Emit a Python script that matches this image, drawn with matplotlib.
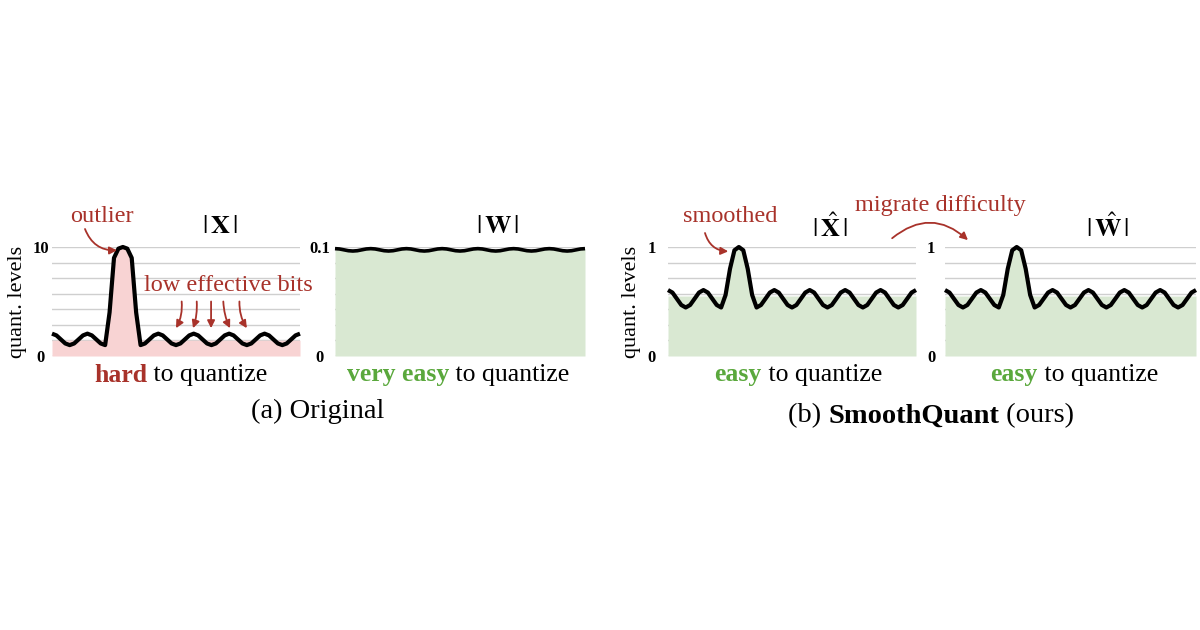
import numpy as np
import matplotlib
matplotlib.use("Agg")
import matplotlib.pyplot as plt

plt.rcParams['font.family'] = ['Liberation Serif', 'DejaVu Serif']
plt.rcParams['mathtext.fontset'] = 'stix'

# positions along each panel (half periods of the ripple)
positions = np.arange(0, 14.01, 0.25)

# |X| : activation with one outlier channel (quant. levels, 0..10)
x_levels = [2.05, 1.89, 1.52, 1.15,
            1.00, 1.15, 1.52, 1.89,
            2.05, 1.89, 1.52, 1.15,
            1.00, 4.00, 9.00, 9.85,
            10.0, 9.85, 9.00, 4.00,
            1.00, 1.15, 1.52, 1.89,
            2.05, 1.89, 1.52, 1.15,
            1.00, 1.15, 1.52, 1.89,
            2.05, 1.89, 1.52, 1.15,
            1.00, 1.15, 1.52, 1.89,
            2.05, 1.89, 1.52, 1.15,
            1.00, 1.15, 1.52, 1.89,
            2.05, 1.89, 1.52, 1.15,
            1.00, 1.15, 1.52, 1.89,
            2.05]

# |W| : weights, almost flat (0..0.1)
w_levels = [0.0985, 0.0982, 0.0974, 0.0966,
            0.0963, 0.0966, 0.0974, 0.0982,
            0.0985, 0.0982, 0.0974, 0.0966,
            0.0963, 0.0966, 0.0974, 0.0982,
            0.0985, 0.0982, 0.0974, 0.0966,
            0.0963, 0.0966, 0.0974, 0.0982,
            0.0985, 0.0982, 0.0974, 0.0966,
            0.0963, 0.0966, 0.0974, 0.0982,
            0.0985, 0.0982, 0.0974, 0.0966,
            0.0963, 0.0966, 0.0974, 0.0982,
            0.0985, 0.0982, 0.0974, 0.0966,
            0.0963, 0.0966, 0.0974, 0.0982,
            0.0985, 0.0982, 0.0974, 0.0966,
            0.0963, 0.0966, 0.0974, 0.0982,
            0.0985]

# |X^| and |W^| after smoothing (0..1), both look the same
smooth_levels = [0.605, 0.582, 0.525, 0.468,
                 0.445, 0.468, 0.525, 0.582,
                 0.605, 0.582, 0.525, 0.468,
                 0.445, 0.560, 0.800, 0.970,
                 1.000, 0.970, 0.800, 0.560,
                 0.445, 0.468, 0.525, 0.582,
                 0.605, 0.582, 0.525, 0.468,
                 0.445, 0.468, 0.525, 0.582,
                 0.605, 0.582, 0.525, 0.468,
                 0.445, 0.468, 0.525, 0.582,
                 0.605, 0.582, 0.525, 0.468,
                 0.445, 0.468, 0.525, 0.582,
                 0.605, 0.582, 0.525, 0.468,
                 0.445, 0.468, 0.525, 0.582,
                 0.605]

x_fill_level = 1.45
smooth_fill_level = 0.55

RED = '#a8322a'
GREEN = '#5aa83c'
PINK = '#f8d3d3'
LIGHT_GREEN = '#d9e8d2'
GRID = '#cfcfcf'

W, H = 1200, 630
fig = plt.figure(figsize=(12, 6.3), dpi=100)


def px_axes(left, right, top, bottom):
    return fig.add_axes([left / W, 1 - bottom / H, (right - left) / W, (bottom - top) / H])


def style_axes(ax, top, top_label, pad):
    ax.set_xlim(0, 14)
    ax.set_ylim(0, top)
    ax.set_xticks([])
    ax.set_yticks(np.linspace(0, top, 8), minor=True)
    ax.set_yticks([0, top])
    ax.set_yticklabels(['0', top_label], fontweight='bold', fontsize=12)
    for lab in ax.get_yticklabels():
        lab.set_horizontalalignment('center')
    ax.tick_params(axis='y', which='both', length=0, pad=pad)
    ax.grid(True, axis='y', which='both', color=GRID, lw=1)
    ax.set_axisbelow(True)
    for s in ax.spines.values():
        s.set_visible(False)
    ax.patch.set_alpha(0)


def draw_curve(ax, y, fill_color, fill_level=None, lw=3.0):
    y = np.asarray(y)
    if fill_level is None:
        top = y
    else:
        spike = (positions > 3) & (positions < 5)
        top = np.where(spike, np.maximum(y, fill_level), fill_level)
    ax.fill_between(positions, 0, top, color=fill_color, lw=0, zorder=1)
    ax.plot(positions, y, color='black', lw=lw, solid_joinstyle='round',
            solid_capstyle='butt', zorder=3, clip_on=False)


ax1 = px_axes(52, 300, 247, 356)
style_axes(ax1, 10, '10', 8)
draw_curve(ax1, x_levels, PINK, x_fill_level)

ax2 = px_axes(335, 585, 247, 356)
style_axes(ax2, 0.1, '0.1', 11)
draw_curve(ax2, w_levels, LIGHT_GREEN, None, lw=2.6)

ax3 = px_axes(668, 916, 247, 356)
style_axes(ax3, 1, '1', 12)
draw_curve(ax3, smooth_levels, LIGHT_GREEN, smooth_fill_level)

ax4 = px_axes(945, 1196, 247, 356)
style_axes(ax4, 1, '1', 10)
draw_curve(ax4, smooth_levels, LIGHT_GREEN, smooth_fill_level)


def ftext(x, y, s, **kw):
    return fig.text(x / W, 1 - y / H, s, ha=kw.pop('ha', 'center'),
                    va=kw.pop('va', 'center'), **kw)


# y labels
ftext(18, 302, 'quant. levels', rotation=90, fontsize=16)
ftext(632, 302, 'quant. levels', rotation=90, fontsize=16)

# panel titles
ftext(220, 227, r'$|\,\mathbf{X}\,|$', fontsize=19)
ftext(498, 227, r'$|\,\mathbf{W}\,|$', fontsize=19)
ftext(830, 228, r'$|\,\hat{\mathbf{X}}\,|$', fontsize=19)
ftext(1108, 228, r'$|\,\hat{\mathbf{W}}\,|$', fontsize=19)


def mixed_text(xc, y, parts, size):
    renderer = fig.canvas.get_renderer()
    texts = []
    for s, color, weight in parts:
        texts.append(ftext(0, y, s, ha='left', color=color, fontweight=weight, fontsize=size))
    widths = [t.get_window_extent(renderer).width for t in texts]
    x = xc - sum(widths) / 2
    for t, w in zip(texts, widths):
        t.set_x(x / W)
        x += w


mixed_text(181, 375, [('hard', RED, 'bold'), (' to quantize', 'black', 'normal')], 18.5)
mixed_text(458, 375, [('very easy', GREEN, 'bold'), (' to quantize', 'black', 'normal')], 18.5)
mixed_text(798, 375, [('easy', GREEN, 'bold'), (' to quantize', 'black', 'normal')], 18.5)
mixed_text(1074, 375, [('easy', GREEN, 'bold'), (' to quantize', 'black', 'normal')], 18.5)

mixed_text(318, 411, [('(a) Original', 'black', 'normal')], 20.5)
mixed_text(931, 416, [('(b) ', 'black', 'normal'), ('SmoothQuant', 'black', 'bold'),
                      (' (ours)', 'black', 'normal')], 20.5)

# annotations
ftext(102, 216, 'outlier', color=RED, fontsize=17.5)
ftext(228, 286, 'low effective bits', color=RED, fontsize=17.5)
ftext(730, 217, 'smoothed', color=RED, fontsize=17.5)
ftext(940, 206, 'migrate difficulty', color=RED, fontsize=17.5)

arrow = dict(arrowstyle='-|>', color=RED, lw=1.3, mutation_scale=11, shrinkA=0, shrinkB=0)

ax1.annotate('', xy=(3.67, 9.7), xycoords='data', xytext=(85, H - 229),
             textcoords='figure pixels',
             arrowprops=dict(arrow, connectionstyle='arc3,rad=0.35'))
ax3.annotate('', xy=(3.4, 0.96), xycoords='data', xytext=(705, H - 233),
             textcoords='figure pixels',
             arrowprops=dict(arrow, connectionstyle='arc3,rad=0.35'))

# low effective bits arrows
starts = [7.32, 8.17, 8.98, 9.67, 10.58]
ends = [7.0, 7.96, 8.98, 10.05, 11.0]
rads = [-0.15, -0.1, 0.0, 0.1, 0.15]
for s, e, r in zip(starts, ends, rads):
    ax1.annotate('', xy=(e, 2.55), xytext=(s, 5.0),
                 arrowprops=dict(arrow, connectionstyle='arc3,rad=%s' % r))

fig.add_artist(matplotlib.patches.FancyArrowPatch(
    (890, H - 240), (970, H - 242), transform=None,
    arrowstyle='-|>', color=RED, lw=1.3, mutation_scale=11,
    connectionstyle='arc3,rad=-0.45'))

fig.savefig('out.png', dpi=100)
